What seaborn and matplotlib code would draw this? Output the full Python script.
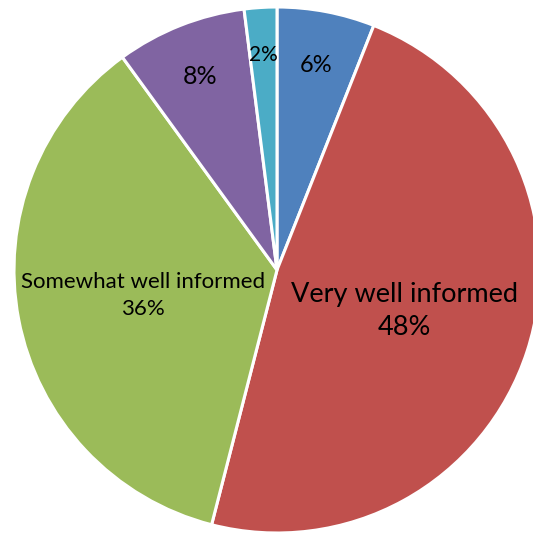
import numpy as np
import matplotlib
matplotlib.use("Agg")
import matplotlib.pyplot as plt
import seaborn as sns

# --- data (clockwise from 12 o'clock) ---
categories = ["", "Very well informed", "Somewhat well informed", "", ""]
shares = [6, 48, 36, 8, 2]
colors = ["#4F81BD", "#C0504D", "#9BBB59", "#8064A2", "#4BACC6"]
label_dist = [0.79, 0.51, 0.52, 0.79, 0.82]
label_size = [17, 19.5, 16, 18, 15]

sns.set_theme(style="white")
plt.rcParams["font.family"] = ["Lato", "DejaVu Sans"]

fig = plt.figure(figsize=(5.33, 5.37), dpi=100)
ax = fig.add_axes([0, 0, 1, 1])

cx, cy, R = 277, 537 - 270, 263
wedges, _ = ax.pie(shares, colors=colors, startangle=90, counterclock=False,
                   center=(cx, cy), radius=R,
                   wedgeprops=dict(edgecolor="white", linewidth=2.2))

total = sum(shares)
for w, cat, val, d, fs in zip(wedges, categories, shares, label_dist, label_size):
    ang = np.deg2rad((w.theta1 + w.theta2) / 2)
    x = cx + d * R * np.cos(ang)
    y = cy + d * R * np.sin(ang)
    txt = f"{cat}\n{val / total:.0%}" if cat else f"{val / total:.0%}"
    ax.text(x, y, txt, ha="center", va="center", fontsize=fs, color="black",
            linespacing=1.4)

ax.set_xlim(0, 533)
ax.set_ylim(0, 537)
ax.set_aspect("equal")
ax.axis("off")

fig.savefig("out.png", dpi=100)
